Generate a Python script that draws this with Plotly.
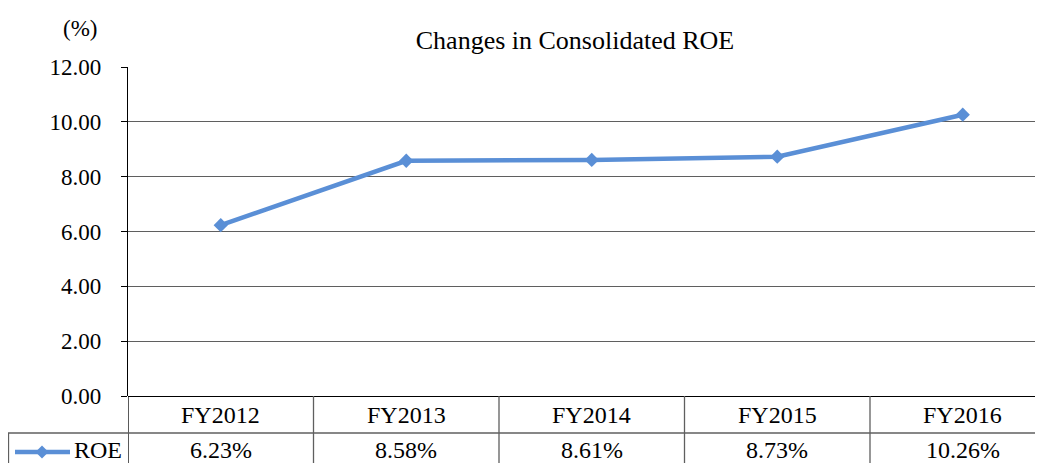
import plotly.graph_objects as go

categories = ["FY2012", "FY2013", "FY2014", "FY2015", "FY2016"]
roe_values = [6.23, 8.58, 8.61, 8.73, 10.26]
value_labels = ["6.23%", "8.58%", "8.61%", "8.73%", "10.26%"]
series_name = "ROE"
y_ticks = [0, 2, 4, 6, 8, 10, 12]

OFF = 8  # page body margin
W, H = 1043 - OFF, 463 - OFF
# targets in window pixels
PL, PR, PT, PB = 128, 1043, 67, 396
ML, MT = PL - OFF, PT - OFF
MR, MB = 0, H - (PB - OFF)
PW = W - ML - MR
PH = H - MT - MB
COL = 185.5  # px per category

def px_x(px):
    return (px - PL) / PW

def px_y(py):
    return (PB - py) / PH

BLUE = "#5A8FD6"
GRID = "#5f5f5f"
FONT = "Liberation Serif"

x_idx = list(range(len(categories)))

fig = go.Figure()
fig.add_trace(go.Scatter(
    x=x_idx, y=roe_values, mode="lines+markers", name=series_name,
    line=dict(color=BLUE, width=4.5),
    marker=dict(symbol="diamond", size=11, color=BLUE),
    showlegend=False, hoverinfo="skip",
))

shapes = []
ann = []
y_head = px_y(415)
y_row = px_y(450)
y_mid = px_y(433)
y_bot = px_y(470)

for i in range(len(categories) + 1):
    xb = i - 0.5
    shapes.append(dict(type="line", xref="x", yref="paper", x0=xb, x1=xb,
                       y0=0, y1=y_bot, line=dict(color="black" if i == 0 else GRID, width=1.3)))
shapes.append(dict(type="line", xref="paper", yref="paper", x0=px_x(8), x1=1,
                   y0=y_mid, y1=y_mid, line=dict(color=GRID, width=1.3)))
shapes.append(dict(type="line", xref="paper", yref="paper", x0=px_x(8.5), x1=px_x(8.5),
                   y0=y_mid, y1=y_bot, line=dict(color=GRID, width=1.3)))
ky = px_y(452)
shapes.append(dict(type="line", xref="paper", yref="paper", x0=px_x(15), x1=px_x(70),
                   y0=ky, y1=ky, line=dict(color=BLUE, width=4.5)))
cx, cy, d = 42, 452, 6.5
shapes.append(dict(type="path", xref="paper", yref="paper",
                   path=f"M {px_x(cx-d)},{px_y(cy)} L {px_x(cx)},{px_y(cy-d)} L {px_x(cx+d)},{px_y(cy)} L {px_x(cx)},{px_y(cy+d)} Z",
                   fillcolor=BLUE, line=dict(color=BLUE, width=0)))

for i, (c, v) in enumerate(zip(categories, value_labels)):
    ann.append(dict(x=i, y=y_head, xref="x", yref="paper", text=c, showarrow=False,
                    xanchor="center", font=dict(family=FONT, size=24, color="black"), yanchor="middle"))
    ann.append(dict(x=i, y=y_row, xref="x", yref="paper", text=v, showarrow=False,
                    xanchor="center", font=dict(family=FONT, size=24, color="black"), yanchor="middle"))

ann.append(dict(x=px_x(72), y=y_row, xref="paper", yref="paper", text=series_name,
                showarrow=False, xanchor="left", yanchor="middle",
                font=dict(family=FONT, size=24, color="black")))
ann.append(dict(x=px_x(80), y=px_y(29), xref="paper", yref="paper", text="(%)",
                showarrow=False, xanchor="center", yanchor="middle",
                font=dict(family=FONT, size=23, color="black")))

fig.update_layout(
    width=W, height=H,
    margin=dict(l=ML, r=MR, t=MT, b=MB, pad=0),
    paper_bgcolor="white", plot_bgcolor="white",
    title=dict(text="Changes in Consolidated ROE", x=px_x(575), xref="paper",
               y=1 - (40 - OFF) / H, yref="container", xanchor="center", yanchor="middle",
               font=dict(family=FONT, size=26, color="black")),
    xaxis=dict(range=[-0.5, -0.5 + PW / COL], showticklabels=False, showgrid=False,
               zeroline=False, showline=False, ticks="", fixedrange=True),
    yaxis=dict(range=[0, 12], tickvals=y_ticks, tickformat=".2f",
               tickfont=dict(family=FONT, size=23, color="black"),
               showgrid=True, gridcolor=GRID, gridwidth=1.3,
               zeroline=True, zerolinecolor="black", zerolinewidth=1.3,
               showline=True, linecolor="black", linewidth=1.3,
               ticks="outside", ticklen=6, tickcolor="black", tickwidth=1.3,
               ticklabelstandoff=15, fixedrange=True),
    shapes=shapes, annotations=ann,
)

fig.write_html("out.html")
